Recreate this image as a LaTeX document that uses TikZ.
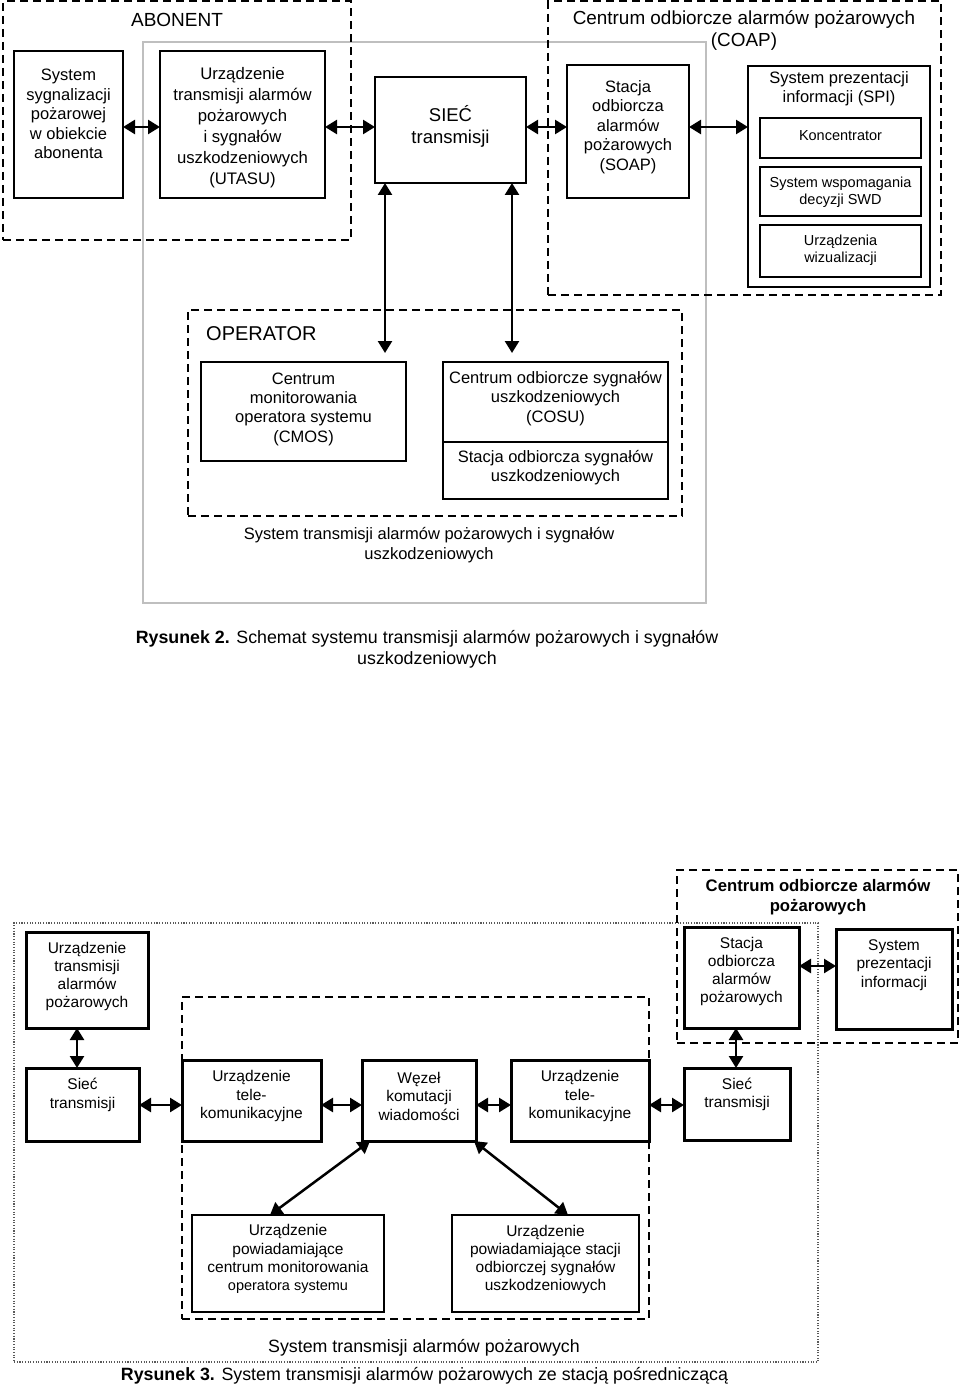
\documentclass[tikz,border=0pt]{standalone}
\usepackage{fontspec}
\setmainfont{Liberation Sans}
\usetikzlibrary{arrows.meta}
\newcommand\fsz[2]{\fontsize{#1pt}{#2pt}\selectfont}
\newcommand\mkbox[6][]{\node[#1, minimum width={(#5-#3)*1pt}, minimum height={(#6-#4)*1pt}] (#2) at ({(#3+#5)/2},{(#4+#6)/2}) {};}
\tikzset{
  box/.style={draw, line width=2pt, inner sep=0pt, outer sep=0pt},
  tbox/.style={draw, line width=3pt, inner sep=0pt, outer sep=0pt},
  dbox/.style={draw, line width=2pt, dash pattern=on 8pt off 5pt, inner sep=0pt, outer sep=0pt},
  dotbox/.style={draw=black!65, line width=1.2pt, dash pattern=on 1.1pt off 1.6pt, inner sep=0pt, outer sep=0pt},
  graybox/.style={draw=black!25, line width=1.5pt, inner sep=0pt, outer sep=0pt},
  txt/.style={align=center, inner sep=0pt},
  arr/.style={{Triangle[length=12pt,width=14pt]}-{Triangle[length=12pt,width=14pt]}, line width=2.5pt}
}
\begin{document}
\begin{tikzpicture}[x=1pt,y=-1pt]
\useasboundingbox (0,0) rectangle (960,1388);
% ---------------- Figure 2 ----------------
\mkbox[graybox]{gray}{143}{42}{706}{603}
\mkbox[dbox]{abon}{3}{1.5}{351}{240}
\mkbox[dbox]{coap}{548}{1.5}{941}{295}
\mkbox[dbox]{oper}{188}{310}{682}{516}
\node[txt, font=\fsz{19}{22}] (abT) at (177,20) {ABONENT};
\node[txt, font=\fsz{18.9}{22}] (coapT) at (744,31) {Centrum odbiorcze alarmów pożarowych\\(COAP)};
\node[txt, font=\fsz{20}{24}, anchor=west] (opT) at (206,334) {OPERATOR};

\mkbox[box]{sysB}{14}{51}{123}{198}
\node[txt, font=\fsz{16.5}{19.5}] (sysT) at (68.5,114) {System\\sygnalizacji\\pożarowej\\w obiekcie\\abonenta};
\mkbox[box]{utB}{160}{51}{325}{198}
\node[txt, font=\fsz{16.7}{21}] (utT) at (242.5,127.5) {Urządzenie\\transmisji alarmów\\pożarowych\\i sygnałów\\uszkodzeniowych\\(UTASU)};
\mkbox[box]{sieB}{375}{77}{526}{183}
\node[txt, font=\fsz{18.5}{22}] (sieT) at (450.5,126) {SIEĆ\\transmisji};
\mkbox[box]{soapB}{567}{65}{689}{198}
\node[txt, font=\fsz{16.5}{19.5}] (soapT) at (628,127) {Stacja\\odbiorcza\\alarmów\\pożarowych\\(SOAP)};
\mkbox[box]{spiB}{748}{66}{930}{287}
\node[txt, font=\fsz{16.5}{19}] (spiT) at (839,88.5) {System prezentacji\\informacji (SPI)};
\mkbox[box]{konB}{760}{118}{921}{158}
\node[txt, font=\fsz{14.5}{17}] (konT) at (840.5,136) {Koncentrator};
\mkbox[box]{swdB}{760}{167}{921}{216}
\node[txt, font=\fsz{14.5}{17}] (swdT) at (840.5,192.5) {System wspomagania\\decyzji SWD};
\mkbox[box]{wizB}{760}{225}{921}{277}
\node[txt, font=\fsz{14.5}{17}] (wizT) at (840.5,250.5) {Urządzenia\\wizualizacji};

\mkbox[box]{cmosB}{201}{362}{406}{461}
\node[txt, font=\fsz{16.5}{19.3}] (cmosT) at (303.5,409) {Centrum\\monitorowania\\operatora systemu\\(CMOS)};
\mkbox[box]{cosuB}{443}{362}{668}{499}
\draw[line width=2pt] (cosuB.west |- 0,442) -- (cosuB.east |- 0,442);
\node[txt, font=\fsz{16.5}{19.5}] (cosuT) at (555.5,398.5) {Centrum odbiorcze sygnałów\\uszkodzeniowych\\(COSU)};
\node[txt, font=\fsz{16.5}{19.5}] (sosuT) at (555.5,467.5) {Stacja odbiorcza sygnałów\\uszkodzeniowych};

\node[txt, font=\fsz{16.5}{20}] (st2T) at (429,545) {System transmisji alarmów pożarowych i sygnałów\\uszkodzeniowych};
\node[txt, font=\fsz{17.8}{21}] (cap2) at (427,649.5) {\textbf{Rysunek 2.} Schemat systemu transmisji alarmów pożarowych i sygnałów\\uszkodzeniowych};

\draw[arr] (sysB.east |- 0,127) -- (utB.west |- 0,127);
\draw[arr] (utB.east |- 0,127) -- (sieB.west |- 0,127);
\draw[arr] (sieB.east |- 0,127) -- (soapB.west |- 0,127);
\draw[arr] (soapB.east |- 0,127) -- (spiB.west |- 0,127);
\draw[arr, shorten >=9pt] (sieB.south -| 385,0) -- (cmosB.north -| 385,0);
\draw[arr, shorten >=9pt] (sieB.south -| 512,0) -- (cosuB.north -| 512,0);

% ---------------- Figure 3 ----------------
\mkbox[dotbox]{outer3}{14}{923}{818}{1362}
\mkbox[dbox]{hdr3}{677}{870}{958}{1043}
\mkbox[dbox]{inner3}{182}{997}{649}{1319}
\node[txt, font=\bfseries\fsz{16.7}{20}] (hdrT) at (818,897) {Centrum odbiorcze alarmów\\pożarowych};

\mkbox[tbox]{utapB}{26}{932}{148}{1028}
\node[txt, font=\fsz{15.5}{18.3}] (utapT) at (87,976.5) {Urządzenie\\transmisji\\alarmów\\pożarowych};
\mkbox[tbox]{sLB}{26}{1068}{139}{1141}
\node[txt, font=\fsz{15.5}{18.3}] (sLT) at (82.5,1095) {Sieć\\transmisji};
\mkbox[tbox]{tLB}{182}{1060}{321}{1141}
\node[txt, font=\fsz{15.5}{18.5}] (tLT) at (251.5,1096) {Urządzenie\\tele-\\komunikacyjne};
\mkbox[tbox]{wzB}{362}{1060}{476}{1141}
\node[txt, font=\fsz{15.5}{18.5}] (wzT) at (419,1096) {Węzeł\\komutacji\\wiadomości};
\mkbox[tbox]{tRB}{511}{1060}{649}{1141}
\node[txt, font=\fsz{15.5}{18.5}] (tRT) at (580,1096) {Urządzenie\\tele-\\komunikacyjne};
\mkbox[tbox]{sRB}{684}{1068}{790}{1140}
\node[txt, font=\fsz{15.5}{18.3}] (sRT) at (737,1094.5) {Sieć\\transmisji};
\mkbox[tbox]{st3B}{684}{927}{799}{1028}
\node[txt, font=\fsz{15.5}{18.3}] (st3T) at (741.5,971.5) {Stacja\\odbiorcza\\alarmów\\pożarowych};
\mkbox[tbox]{spi3B}{836}{929}{952}{1029}
\node[txt, font=\fsz{15.5}{18.5}] (spi3T) at (894,965) {System\\prezentacji\\informacji};
\mkbox[box]{bLB}{192}{1215}{384}{1312}
\node[txt, font=\fsz{15.5}{18.2}] (bLT) at (288,1259) {Urządzenie\\powiadamiające\\centrum monitorowania\\{\fsz{14.5}{18.2}operatora systemu}};
\mkbox[box]{bRB}{452}{1215}{639}{1312}
\node[txt, font=\fsz{15.5}{18.2}] (bRT) at (545.5,1259.5) {Urządzenie\\powiadamiające stacji\\odbiorczej sygnałów\\uszkodzeniowych};

\node[txt, font=\fsz{17.8}{21}] (st3sys) at (424,1348) {System transmisji alarmów pożarowych};
\node[txt, font=\fsz{17.8}{21}] (cap3) at (424.5,1376) {\textbf{Rysunek 3.} System transmisji alarmów pożarowych ze stacją pośredniczącą};

\draw[arr] (utapB.south -| 77,0) -- (sLB.north -| 77,0);
\draw[arr] (sLB.east |- 0,1105) -- (tLB.west |- 0,1105);
\draw[arr] (tLB.east |- 0,1105) -- (wzB.west |- 0,1105);
\draw[arr] (wzB.east |- 0,1105) -- (tRB.west |- 0,1105);
\draw[arr] (tRB.east |- 0,1105) -- (sRB.west |- 0,1105);
\draw[arr] (sRB.north -| 736,0) -- (st3B.south -| 736,0);
\draw[arr] (st3B.east |- 0,966) -- (spi3B.west |- 0,966);
\draw[arr] ([xshift=8pt]wzB.south west) -- ([xshift=-18pt]bLB.north);
\draw[arr] ([xshift=-2pt]wzB.south east) -- ([xshift=22.5pt]bRB.north);
\end{tikzpicture}
\end{document}
